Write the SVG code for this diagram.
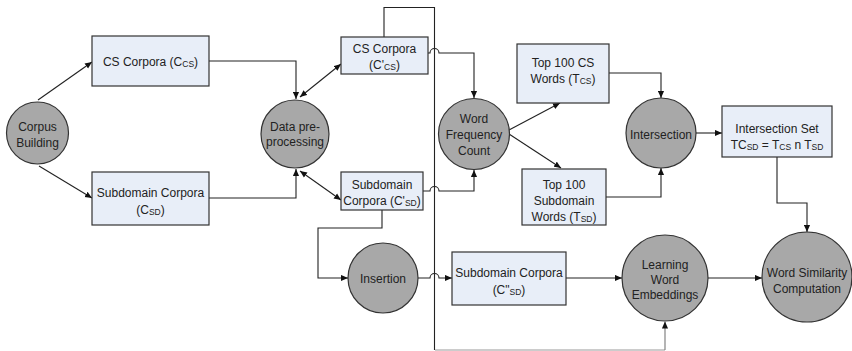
<svg xmlns="http://www.w3.org/2000/svg" width="852" height="351" viewBox="0 0 852 351">
<defs>
<marker id="ah" viewBox="0 0 8 8" refX="8" refY="4" markerWidth="7" markerHeight="7" markerUnits="userSpaceOnUse" orient="auto-start-reverse">
<path d="M0,0.5 L8,4 L0,7.5 Z" fill="#111"/>
</marker>
</defs>
<style>
text{font-family:"Liberation Sans",Arial,sans-serif;font-size:12px;fill:#222;text-anchor:middle}
.s{font-size:8.5px}
.box{fill:#e8eef8;stroke:#333;stroke-width:1.2}
.node{fill:#a8a8a8;stroke:#333;stroke-width:1.2}
.c{fill:none;stroke:#222;stroke-width:1.1}
.g{fill:none;stroke:#777;stroke-width:1.1}
.lg{fill:none;stroke:#bbb;stroke-width:1.5}
</style>
<rect width="852" height="351" fill="#fff"/>
<g id="connectors">
<path class="c" d="M38,100 L92,62" marker-end="url(#ah)"/>
<path class="c" d="M39,166 L92,198" marker-end="url(#ah)"/>
<path class="c" d="M209,61 H296 V99" marker-end="url(#ah)"/>
<path class="c" d="M209,198 H296 V169" marker-end="url(#ah)"/>
<path class="c" d="M300,97 L341,64" marker-start="url(#ah)" marker-end="url(#ah)"/>
<path class="c" d="M300,171 L341,200" marker-start="url(#ah)" marker-end="url(#ah)"/>
<path class="c" d="M384,37 V7.5 H434.5 V350"/>
<path class="c" d="M428,53 H430 A4.5,4.5 0 0 1 439,53 H474 V98" marker-end="url(#ah)"/>
<path class="c" d="M423,191 H430 A4.5,4.5 0 0 1 439,191 H474 V170" marker-end="url(#ah)"/>
<path class="c" d="M382,210 V228 H318 V278 H348" marker-end="url(#ah)"/>
<path class="c" d="M418,278 H430 A4.5,4.5 0 0 1 439,278 H452" marker-end="url(#ah)"/>
<path class="c" d="M509,130 L560,103" marker-end="url(#ah)"/>
<path class="c" d="M509,134 L561,168" marker-end="url(#ah)"/>
<path class="c" d="M609,73 H661 V98" marker-end="url(#ah)"/>
<path class="c" d="M606,197 H661 V168" marker-end="url(#ah)"/>
<path class="c" d="M696,133 H722" marker-end="url(#ah)"/>
<path class="c" d="M777,157 V203 H807 V232" marker-end="url(#ah)"/>
<path class="c" d="M566,278 H622" marker-end="url(#ah)"/>
<path class="c" d="M708,278 H762" marker-end="url(#ah)"/>
<path class="lg" d="M435,350 H665"/>
<path class="g" d="M665,350 V321.5" marker-end="url(#ah)"/>
</g>
<g id="corpus-building">
<circle class="node" cx="37.5" cy="133" r="31"/>
<text x="37.5" y="131">Corpus</text>
<text x="37.5" y="147">Building</text>
</g>
<g id="cs-corpora">
<rect class="box" x="92" y="36" width="117" height="50"/>
<text x="150.5" y="66">CS Corpora (C<tspan class="s" dy="1">CS</tspan><tspan dy="-1">)</tspan></text>
</g>
<g id="subdomain-corpora">
<rect class="box" x="92" y="172" width="117" height="53"/>
<text x="150.5" y="197">Subdomain Corpora</text>
<text x="150.5" y="214">(C<tspan class="s" dy="1">SD</tspan><tspan dy="-1">)</tspan></text>
</g>
<g id="data-preprocessing">
<circle class="node" cx="295" cy="134" r="34"/>
<text x="295" y="131">Data pre-</text>
<text x="295" y="146">processing</text>
</g>
<g id="cs-corpora-prime">
<rect class="box" x="341" y="37" width="87" height="37"/>
<text x="384.5" y="53">CS Corpora</text>
<text x="384.5" y="69">(C'<tspan class="s" dy="1">CS</tspan><tspan dy="-1">)</tspan></text>
</g>
<g id="subdomain-corpora-prime">
<rect class="box" x="341" y="172" width="82" height="38"/>
<text x="382" y="189">Subdomain</text>
<text x="382" y="205">Corpora (C'<tspan class="s" dy="1">SD</tspan><tspan dy="-1">)</tspan></text>
</g>
<g id="word-frequency-count">
<circle class="node" cx="474" cy="134" r="35.5"/>
<text x="474" y="123">Word</text>
<text x="474" y="139">Frequency</text>
<text x="474" y="155">Count</text>
</g>
<g id="top100-cs">
<rect class="box" x="517" y="44" width="92" height="59"/>
<text x="563" y="67">Top 100 CS</text>
<text x="563" y="83">Words (T<tspan class="s" dy="1">CS</tspan><tspan dy="-1">)</tspan></text>
</g>
<g id="top100-sd">
<rect class="box" x="522" y="169" width="84" height="56"/>
<text x="564" y="189">Top 100</text>
<text x="564" y="205">Subdomain</text>
<text x="564" y="221">Words (T<tspan class="s" dy="1">SD</tspan><tspan dy="-1">)</tspan></text>
</g>
<g id="intersection">
<circle class="node" cx="661" cy="133" r="35"/>
<text x="661" y="139">Intersection</text>
</g>
<g id="intersection-set">
<rect class="box" x="722" y="106" width="110" height="51"/>
<text x="777" y="133">Intersection Set</text>
<text x="777" y="149">TC<tspan class="s" dy="1">SD</tspan><tspan dy="-1"> = T</tspan><tspan class="s" dy="1">CS</tspan><tspan dy="-1"> n T</tspan><tspan class="s" dy="1">SD</tspan></text>
</g>
<g id="insertion">
<circle class="node" cx="383" cy="278" r="35"/>
<text x="383" y="283">Insertion</text>
</g>
<g id="subdomain-corpora-dprime">
<rect class="box" x="452" y="252" width="114" height="53"/>
<text x="509" y="277">Subdomain Corpora</text>
<text x="509" y="294">(C"<tspan class="s" dy="1">SD</tspan><tspan dy="-1">)</tspan></text>
</g>
<g id="learning-word-embeddings">
<circle class="node" cx="665" cy="278" r="43"/>
<text x="665" y="269">Learning</text>
<text x="665" y="284">Word</text>
<text x="665" y="299">Embeddings</text>
</g>
<g id="word-similarity-computation">
<circle class="node" cx="807" cy="277" r="45"/>
<text x="807" y="277">Word Similarity</text>
<text x="807" y="293">Computation</text>
</g>
</svg>
